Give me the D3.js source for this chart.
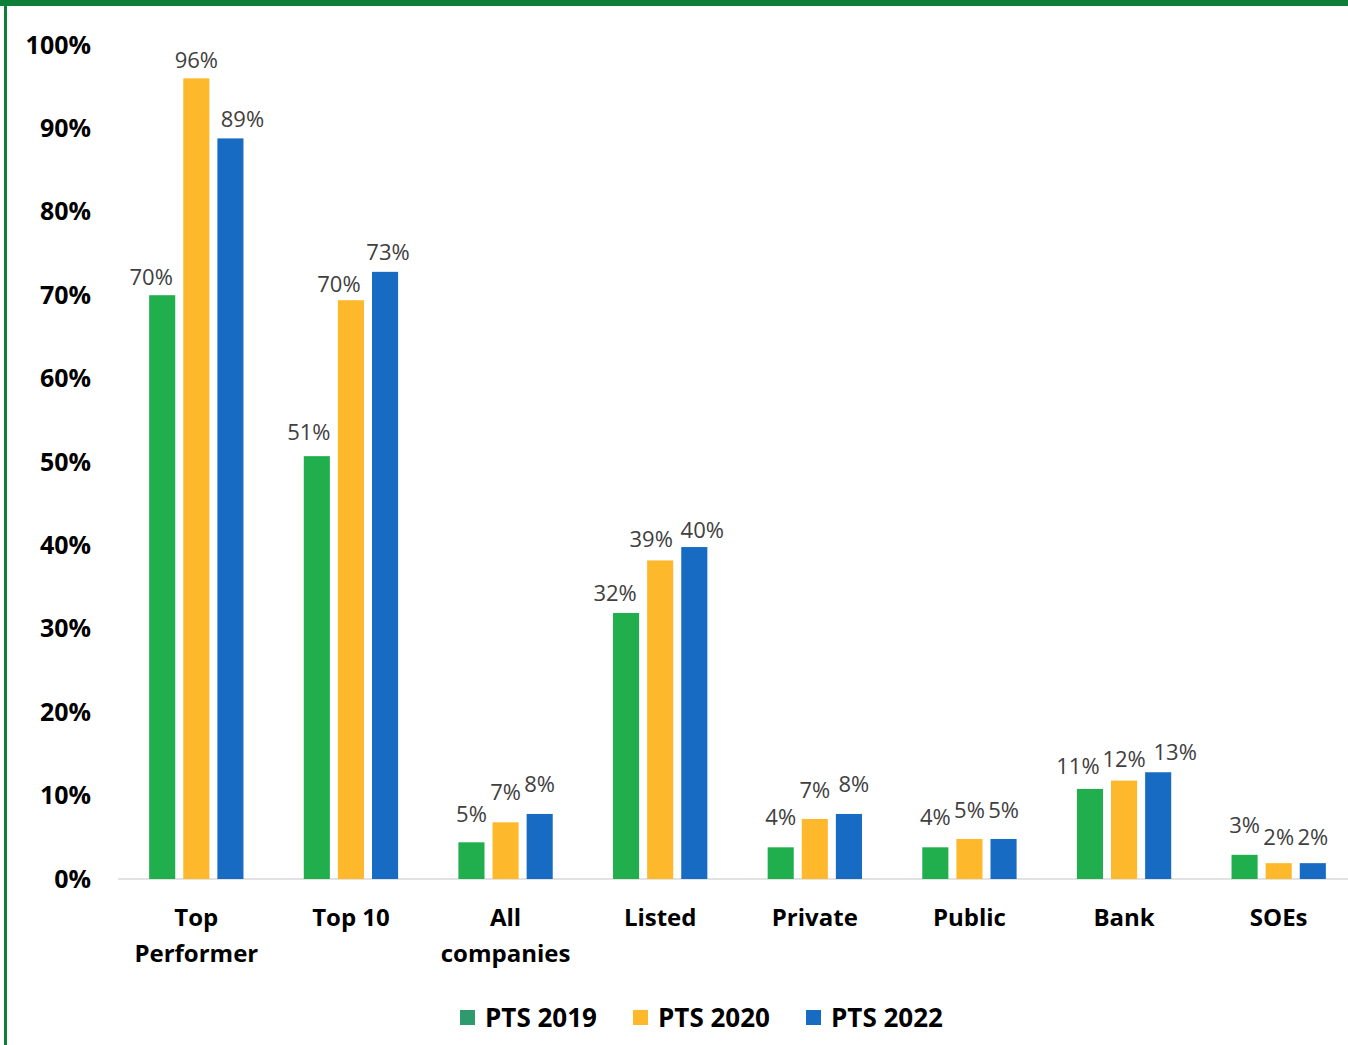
<!DOCTYPE html>
<html>
<head>
<meta charset="utf-8">
<script src="https://cdn.jsdelivr.net/npm/d3@7/dist/d3.min.js"></script>
<style>
  html, body { margin: 0; padding: 0; background: #fff; }
  svg { display: block; font-family: "Open Sans", "Noto Sans", sans-serif; }
</style>
</head>
<body>
<div id="chart"></div>
<script>
// categories along the x axis (lines of each label)
var categories = ["Top Performer", "Top 10", "All companies", "Listed", "Private", "Public", "Bank", "SOEs"];
var categoryLines = [["Top", "Performer"], ["Top 10"], ["All", "companies"], ["Listed"], ["Private"], ["Public"], ["Bank"], ["SOEs"]];

var seriesNames = ["PTS 2019", "PTS 2020", "PTS 2022"];

// bar heights (percent)
var pts2019 = [70.0, 50.7, 4.4, 31.9, 3.8, 3.8, 10.8, 2.9];
var pts2020 = [96.0, 69.4, 6.8, 38.2, 7.2, 4.8, 11.8, 1.9];
var pts2022 = [88.8, 72.8, 7.8, 39.8, 7.8, 4.8, 12.8, 1.9];

// data labels as printed on the chart
var labels2019 = ["70%", "51%", "5%", "32%", "4%", "4%", "11%", "3%"];
var labels2020 = ["96%", "70%", "7%", "39%", "7%", "5%", "12%", "2%"];
var labels2022 = ["89%", "73%", "8%", "40%", "8%", "5%", "13%", "2%"];

var yTicks = [0, 10, 20, 30, 40, 50, 60, 70, 80, 90, 100];

var seriesColors = ["#20AF4C", "#FDB92B", "#176BC3"];
var legendColors = ["#2E9A6E", "#FDB92B", "#176BC3"];

var width = 1348, height = 1045;

var svg = d3.select("#chart").append("svg")
    .attr("width", width)
    .attr("height", height);

// green frame (top band + left rule)
svg.append("rect").attr("x", 0).attr("y", 0).attr("width", width).attr("height", 6).attr("fill", "#0F7E38");
svg.append("rect").attr("x", 4).attr("y", 0).attr("width", 3).attr("height", height).attr("fill", "#0F7E38");

var y = d3.scaleLinear().domain([0, 100]).range([879, 45]);

var x0 = d3.scaleBand()
    .domain(categories)
    .range([119, 1356])
    .paddingInner(0.39)
    .paddingOuter(0.195);

var x1 = d3.scaleBand()
    .domain(seriesNames)
    .range([0, x0.bandwidth()])
    .paddingInner(0.235);

// baseline
svg.append("line")
    .attr("x1", 118).attr("x2", width)
    .attr("y1", y(0)).attr("y2", y(0))
    .attr("stroke", "#D9D9D9")
    .attr("stroke-width", 1.5);

// y axis labels
var yAxis = d3.axisLeft(y)
    .tickValues(yTicks)
    .tickFormat(function(d) { return d + "%"; })
    .tickSize(0)
    .tickPadding(0);

var gy = svg.append("g")
    .attr("transform", "translate(91,0)")
    .call(yAxis);
gy.select(".domain").remove();
gy.selectAll("text")
    .attr("fill", "#000")
    .attr("font-size", "25px")
    .attr("font-weight", "bold")
    .attr("font-family", "'Open Sans', sans-serif");

var values = [pts2019, pts2020, pts2022];
var labelText = [labels2019, labels2020, labels2022];

// manual label placement, like the hand-moved labels in the original
var labelNudge = [
  [-11, -8, 0, -11, 0, 0, -12, 0],
  [0, -12, 0, -9, 0, 0, 0, 0],
  [12, 3, 0, 8, 5, 0, 17, 0]
];
var labelLift = [
  [10, 16, 20, 12, 22, 22, 15, 22],
  [10, 8, 22, 13, 21, 21, 14, 18],
  [11, 12, 22, 9, 22, 21, 12, 18]
];

var rows = [];
seriesNames.forEach(function(s, si) {
  categories.forEach(function(c, ci) {
    rows.push({ series: s, si: si, cat: c, ci: ci, value: values[si][ci], label: labelText[si][ci] });
  });
});

svg.append("g").selectAll("rect")
  .data(rows)
  .enter().append("rect")
    .attr("x", function(d) { return x0(d.cat) + x1(d.series); })
    .attr("y", function(d) { return y(d.value); })
    .attr("width", x1.bandwidth())
    .attr("height", function(d) { return y(0) - y(d.value); })
    .attr("fill", function(d) { return seriesColors[d.si]; });

svg.append("g").selectAll("text")
  .data(rows)
  .enter().append("text")
    .attr("x", function(d) { return x0(d.cat) + x1(d.series) + x1.bandwidth() / 2 + labelNudge[d.si][d.ci]; })
    .attr("y", function(d) { return y(d.value) - labelLift[d.si][d.ci]; })
    .attr("text-anchor", "middle")
    .attr("font-size", "22px")
    .attr("fill", "#404040")
    .text(function(d) { return d.label; });

// category labels
var cat = svg.append("g").selectAll("text")
  .data(categories)
  .enter().append("text")
    .attr("x", function(d) { return x0(d) + x0.bandwidth() / 2; })
    .attr("y", 926)
    .attr("text-anchor", "middle")
    .attr("font-size", "24px")
    .attr("font-weight", "bold")
    .attr("fill", "#000");
cat.selectAll("tspan")
  .data(function(d, i) { return categoryLines[i]; })
  .enter().append("tspan")
    .attr("x", function() { var p = d3.select(this.parentNode).datum(); return x0(p) + x0.bandwidth() / 2; })
    .attr("dy", function(d, i) { return i === 0 ? 0 : 36; })
    .text(function(d) { return d; });

// legend
var legendX = [460, 633, 806];
var legend = svg.append("g").selectAll("g")
  .data(seriesNames)
  .enter().append("g")
    .attr("transform", function(d, i) { return "translate(" + legendX[i] + ",1010)"; });
legend.append("rect")
    .attr("width", 15).attr("height", 15)
    .attr("fill", function(d, i) { return legendColors[i]; });
legend.append("text")
    .attr("x", 25).attr("y", 17)
    .attr("font-size", "26px")
    .attr("font-weight", "bold")
    .attr("fill", "#000")
    .text(function(d) { return d; });
</script>
</body>
</html>
